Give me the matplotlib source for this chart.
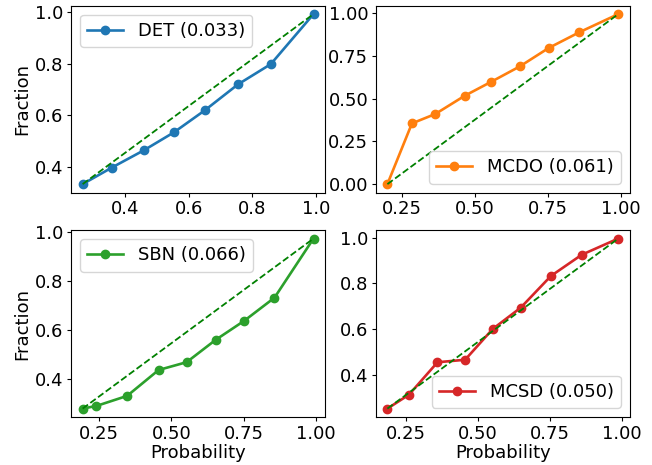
import matplotlib
matplotlib.use("Agg")
import matplotlib.pyplot as plt

plt.rcParams["font.size"] = 13
plt.rcParams["xtick.major.size"] = 3
plt.rcParams["ytick.major.size"] = 3
plt.rcParams["xtick.major.pad"] = 2.5
plt.rcParams["ytick.major.pad"] = 2.5

# probabilidad media y fraccion de positivos por modelo
det_x = [0.267, 0.359, 0.460, 0.554, 0.651, 0.755, 0.858, 0.992]
det_y = [0.335, 0.399, 0.466, 0.535, 0.620, 0.720, 0.798, 0.991]

mcdo_x = [0.200, 0.284, 0.364, 0.464, 0.555, 0.653, 0.752, 0.857, 0.990]
mcdo_y = [0.000, 0.355, 0.410, 0.516, 0.598, 0.688, 0.796, 0.888, 0.994]

sbn_x = [0.193, 0.241, 0.347, 0.456, 0.553, 0.653, 0.753, 0.857, 0.992]
sbn_y = [0.279, 0.290, 0.331, 0.437, 0.469, 0.560, 0.639, 0.733, 0.975]

mcsd_x = [0.185, 0.260, 0.359, 0.455, 0.551, 0.648, 0.753, 0.860, 0.987]
mcsd_y = [0.251, 0.312, 0.454, 0.465, 0.600, 0.693, 0.832, 0.925, 0.996]

nombres = ["DET (0.033)", "MCDO (0.061)", "SBN (0.066)", "MCSD (0.050)"]
colores = ["C0", "C1", "C2", "C3"]
legendas = ["upper left", "lower right", "upper left", "lower right"]

fig, axes = plt.subplots(2, 2, figsize=(6.52, 4.65), dpi=100)
plt.subplots_adjust(left=0.109, right=0.966, top=0.988, bottom=0.103,
                    wspace=0.2, hspace=0.2)

series = [(det_x, det_y), (mcdo_x, mcdo_y), (sbn_x, sbn_y), (mcsd_x, mcsd_y)]
for i, ax in enumerate(axes.flat):
    x, y = series[i]
    ax.plot(x, y, marker="o", color=colores[i], linewidth=1.9, markersize=6,
            label=nombres[i])
    ax.plot([x[0], x[-1]], [y[0], y[-1]], "g--", linewidth=1.3)
    ax.legend(loc=legendas[i])

axes[0, 0].set_ylabel("Fraction", labelpad=3)
axes[1, 0].set_ylabel("Fraction", labelpad=3)
axes[1, 0].set_xlabel("Probability", labelpad=1)
axes[1, 1].set_xlabel("Probability", labelpad=1)

plt.savefig("out.png", dpi=100)
